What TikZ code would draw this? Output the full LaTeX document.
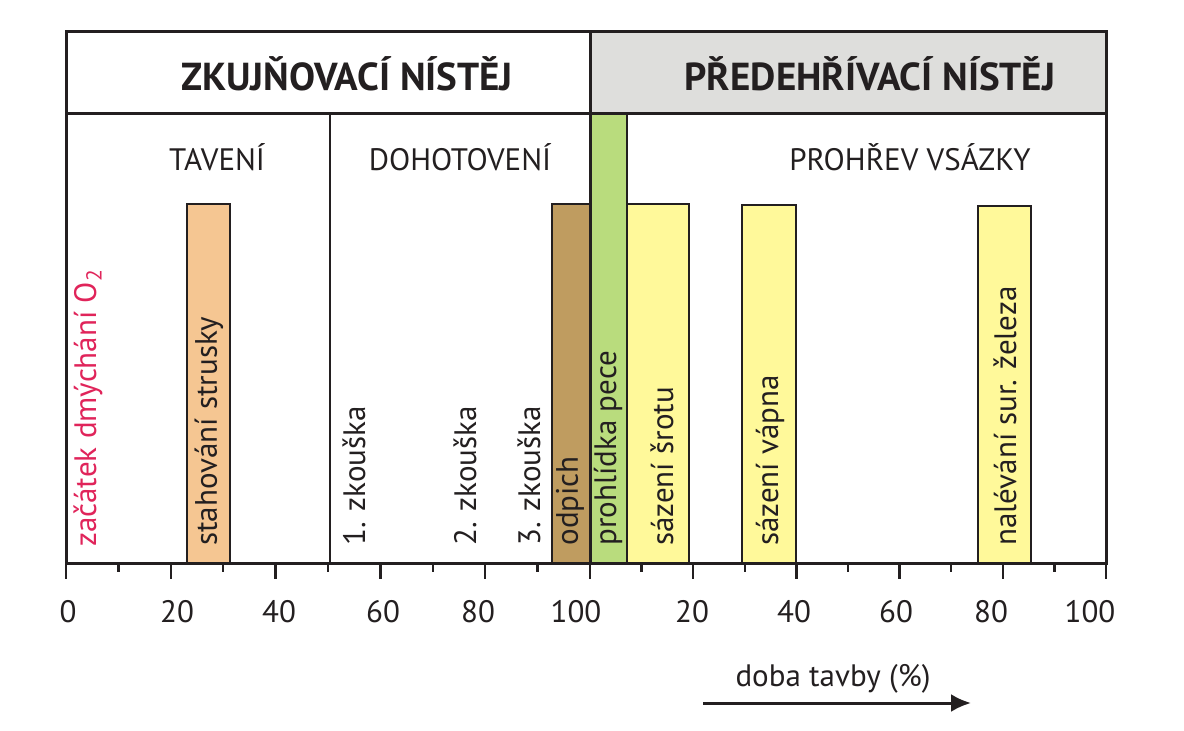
\documentclass[tikz,border=0pt]{standalone}
\usepackage{fontspec}
\setmainfont{PT Sans}
\usetikzlibrary{arrows.meta}

\definecolor{hlavagray}{RGB}{222,222,220}
\definecolor{struskaor}{RGB}{245,198,146}
\definecolor{odpichbr}{RGB}{191,156,96}
\definecolor{pecegreen}{RGB}{185,220,125}
\definecolor{sazeniyel}{RGB}{255,249,154}
\definecolor{kyslikred}{RGB}{224,36,90}
\definecolor{textblk}{RGB}{35,31,32}

\tikzset{
  frame/.style={line width=1.5pt,textblk},
  bar/.style={line width=1.2pt,textblk},
  hlava/.style={font=\fontsize{19.5}{22}\selectfont\bfseries,text=textblk},
  faze/.style={font=\fontsize{15.5}{17}\selectfont,text=textblk},
  popis/.style={font=\fontsize{15.5}{17}\selectfont,text=textblk,rotate=90,anchor=west,inner sep=0pt},
  cislo/.style={font=\fontsize{15.5}{17}\selectfont,text=textblk}
}

\begin{document}
\begin{tikzpicture}[x=0.5pt,y=-0.5pt,>=Latex]
  \useasboundingbox (0,0) rectangle (1184,730);
  \def\L{66} \def\M{590} \def\R{1106}
  \def\T{31} \def\H{113} \def\B{563}
  % hlavicka vpravo sede
  \fill[hlavagray] (\M,\T) rectangle (\R,\H);
  % sloupce
  \draw[bar,fill=struskaor] (187,204) rectangle (230,\B);
  \draw[bar,fill=odpichbr] (552,204) rectangle (\M,\B);
  \draw[bar,fill=pecegreen] (\M,\H) rectangle (627,\B);
  \draw[bar,fill=sazeniyel] (627,204) rectangle (689,\B);
  \draw[bar,fill=sazeniyel] (742,205) rectangle (796,\B);
  \draw[bar,fill=sazeniyel] (978,206) rectangle (1031,\B);
  % ramecek
  \draw[frame] (\L,\T) rectangle (\R,\B);
  \draw[frame] (\L,\H) -- (\R,\H);
  \draw[frame] (\M,\T) -- (\M,\B);
  \draw[bar] (330,\H) -- (330,\B);
  % texty v hlavicce
  \node[hlava] (zkuj) at (347,74) {ZKUJŇOVACÍ NÍSTĚJ};
  \node[hlava] (pred) at (870,74) {PŘEDEHŘÍVACÍ NÍSTĚJ};
  \node[faze] (tav) at (217,157) {TAVENÍ};
  \node[faze] (doh) at (460,157) {DOHOTOVENÍ};
  \node[faze] (proh) at (910,157) {PROHŘEV VSÁZKY};
  % svisle popisky
  \node[popis,text=kyslikred] (kyslik) at (88,547) {začátek dmýchání O\textsubscript{2}};
  \node[popis] (struska) at (209,546) {stahování strusky};
  \node[popis] (zk1) at (354,546) {1. zkouška};
  \node[popis] (zk2) at (465,546) {2. zkouška};
  \node[popis] (zk3) at (529,546) {3. zkouška};
  \node[popis] (odpich) at (570,546) {odpich};
  \node[popis] (pece) at (608,546) {prohlídka pece};
  \node[popis] (srot) at (662,546) {sázení šrotu};
  \node[popis] (vapno) at (770,546) {sázení vápna};
  \node[popis] (zelezo) at (1005,546) {nalévání sur. železa};
  % osa - carky
  \foreach \i in {0,...,10} {
    \ifodd\i
      \draw[bar] (\L+52.4*\i,\B) -- ++(0,9);
      \draw[bar] (\M+51.6*\i,\B) -- ++(0,9);
    \else
      \draw[bar] (\L+52.4*\i,\B) -- ++(0,16);
      \draw[bar] (\M+51.6*\i,\B) -- ++(0,16);
    \fi
  }
  % osa - cisla
  \foreach \x/\v [count=\n] in {68/0,177/20,279/40,383/60,478/80,576/100,
                                692/20,794/40,896/60,991/80,1090/100}
    \node[cislo] (tk\n) at (\x,612) {\v};
  % doba tavby
  \node[cislo] (doba) at (833,679) {doba tavby (\%)};
  \coordinate (sipA) at (703,703);
  \coordinate (sipB) at (971,703);
  \draw[-{Latex[length=10pt,width=9pt]},line width=1.5pt,textblk] (sipA) -- (sipB);
\end{tikzpicture}
\end{document}
